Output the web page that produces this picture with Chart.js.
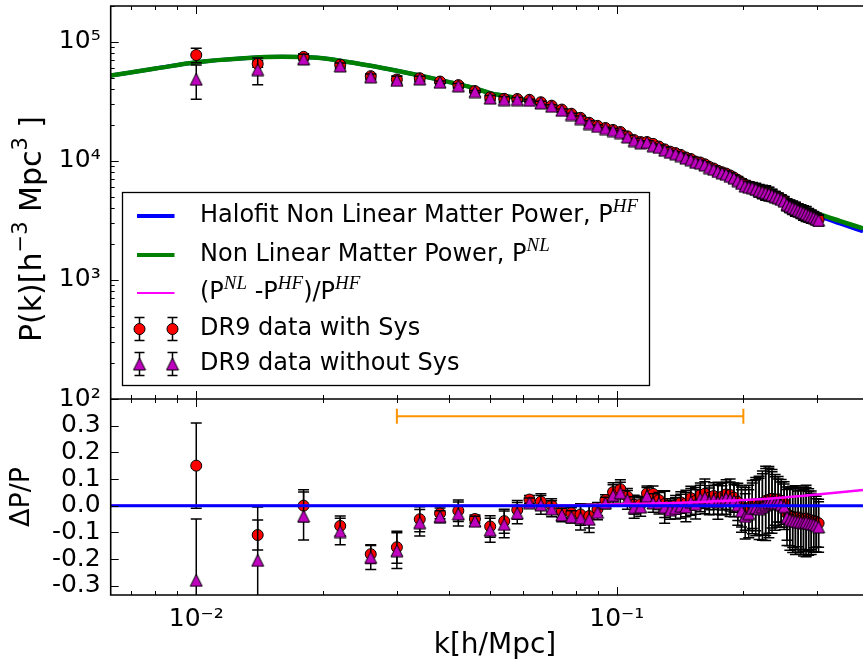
<!DOCTYPE html>
<html>
<head>
<meta charset="utf-8">
<script src="https://cdn.jsdelivr.net/npm/chart.js@4.4.0/dist/chart.umd.min.js"></script>
<style>
  html, body { margin: 0; padding: 0; background: #fff; }
  #wrap { position: relative; width: 863px; height: 668px; }
</style>
</head>
<body>
<div id="wrap"><canvas id="pk" width="863" height="668"></canvas></div>
<script>
// k bins of the DR9 measurement [h/Mpc]
const kBins = [0.010, 0.014, 0.018, 0.022, 0.026, 0.030, 0.034, 0.038, 0.042, 0.046,
  0.050, 0.054, 0.058, 0.062, 0.066, 0.070, 0.074, 0.078, 0.082, 0.086,
  0.090, 0.094, 0.098, 0.102, 0.106, 0.110, 0.114, 0.118, 0.122, 0.126,
  0.130, 0.134, 0.138, 0.142, 0.146, 0.150, 0.154, 0.158, 0.162, 0.166,
  0.170, 0.174, 0.178, 0.182, 0.186, 0.190, 0.194, 0.198, 0.202, 0.206,
  0.210, 0.214, 0.218, 0.222, 0.226, 0.230, 0.234, 0.238, 0.242, 0.246,
  0.250, 0.254, 0.258, 0.262, 0.266, 0.270, 0.274, 0.278, 0.282, 0.286,
  0.290, 0.294, 0.298, 0.302];

// P(k) in units of 10^3 h^-3 Mpc^3 (top panel)
const pSys = [77.5, 65.3, 74.8, 64.2, 51.5, 48.3, 49.5, 46.4, 43.3, 38.6,
  34.2, 33.2, 33.1, 32.6, 31.1, 29.1, 27.0, 24.9, 23.0, 20.9,
  19.7, 18.9, 18.2, 17.5, 16.1, 14.96, 14.4, 14.4, 13.9, 13.2,
  12.5, 11.95, 11.63, 11.23, 10.68, 10.38, 9.87, 9.70, 9.37, 8.90,
  8.63, 8.27, 8.03, 7.83, 7.55, 7.24, 6.91, 6.57, 6.32, 6.16,
  6.05, 5.89, 5.69, 5.59, 5.48, 5.36, 5.23, 5.08, 4.97, 4.82,
  4.66, 4.37, 4.21, 4.11, 4.00, 3.92, 3.82, 3.72, 3.65, 3.56,
  3.47, 3.39, 3.31, 3.22];
const pNoSys = [48.5, 58.4, 71.9, 62.8, 50.8, 47.5, 48.9, 45.8, 42.7, 38.2,
  33.7, 32.7, 32.7, 32.3, 30.7, 28.8, 26.6, 24.5, 22.7, 20.6,
  19.5, 18.7, 18.0, 17.3, 15.9, 14.8, 14.2, 14.3, 13.4, 13.0,
  12.3, 11.81, 11.48, 11.08, 10.55, 10.24, 9.75, 9.58, 9.24, 8.78,
  8.51, 8.15, 7.93, 7.72, 7.43, 7.16, 6.82, 6.47, 6.14, 6.02,
  5.97, 5.80, 5.62, 5.50, 5.40, 5.29, 5.16, 5.01, 4.90, 4.75,
  4.59, 4.30, 4.16, 4.05, 3.95, 3.85, 3.76, 3.67, 3.59, 3.50,
  3.42, 3.35, 3.26, 3.17];
const errPSys = [10.8, 4.1, 4.5, 2.6, 2.2, 3.4, 2.5, 1.0, 1.8, 0.6,
  1.5, 1.6, 1.2, 0.5, 0.9, 0.7, 0.6, 0.5, 1.0, 1.0,
  0.5, 0.37, 0.61, 0.58, 0.47, 0.52, 0.43, 0.39, 0.40, 0.45,
  0.62, 0.36, 0.40, 0.44, 0.53, 0.45, 0.49, 0.42, 0.49, 0.39,
  0.42, 0.48, 0.39, 0.41, 0.44, 0.39, 0.48, 0.50, 0.51, 0.53,
  0.54, 0.59, 0.63, 0.66, 0.70, 0.66, 0.56, 0.47, 0.41, 0.38,
  0.37, 0.45, 0.48, 0.49, 0.50, 0.45, 0.46, 0.47, 0.48, 0.43,
  0.40, 0.36, 0.33, 0.31];
const errPNoSys = [15.5, 14.7, 6.7, 3.5, 2.8, 3.8, 2.6, 1.05, 2.0, 0.73,
  1.7, 1.8, 1.3, 0.57, 1.07, 0.87, 0.69, 0.59, 1.07, 1.09,
  0.56, 0.41, 0.69, 0.66, 0.55, 0.60, 0.50, 0.44, 0.47, 0.52,
  0.74, 0.42, 0.46, 0.50, 0.58, 0.51, 0.53, 0.47, 0.54, 0.43,
  0.46, 0.52, 0.43, 0.45, 0.47, 0.42, 0.51, 0.53, 0.54, 0.56,
  0.57, 0.61, 0.65, 0.69, 0.73, 0.68, 0.59, 0.50, 0.44, 0.40,
  0.39, 0.47, 0.50, 0.51, 0.52, 0.47, 0.48, 0.49, 0.50, 0.45,
  0.42, 0.38, 0.35, 0.33];

// Delta P / P (bottom panel)
const dSys = [0.150, -0.110, 0.000, -0.076, -0.182, -0.156, -0.051, -0.029, -0.019, -0.050,
  -0.078, -0.058, -0.016, 0.023, 0.015, 0.001, -0.022, -0.028, -0.033, -0.039,
  -0.013, 0.021, 0.051, 0.062, 0.034, 0.004, 0.005, 0.046, 0.044, 0.021,
  0.006, -0.004, 0.003, 0.012, 0.008, 0.028, 0.018, 0.040, 0.045, 0.030,
  0.036, 0.028, 0.034, 0.042, 0.040, 0.030, 0.014, -0.005, -0.012, -0.008,
  0.004, 0.006, 0.000, 0.010, 0.018, 0.022, 0.026, 0.022, 0.024, 0.018,
  0.010, -0.030, -0.040, -0.042, -0.045, -0.044, -0.048, -0.050, -0.048, -0.052,
  -0.055, -0.058, -0.060, -0.066];
const dNoSys = [-0.280, -0.205, -0.039, -0.097, -0.194, -0.169, -0.064, -0.041, -0.031, -0.058,
  -0.092, -0.070, -0.028, 0.011, 0.003, -0.012, -0.035, -0.042, -0.046, -0.051,
  -0.025, 0.010, 0.038, 0.048, 0.022, -0.007, -0.005, 0.036, 0.010, 0.009,
  -0.006, -0.016, -0.010, -0.002, -0.005, 0.014, 0.005, 0.027, 0.030, 0.016,
  0.022, 0.014, 0.020, 0.028, 0.024, 0.018, 0.002, -0.020, -0.040, -0.030,
  -0.010, -0.008, -0.012, -0.005, 0.004, 0.010, 0.012, 0.008, 0.010, 0.004,
  -0.004, -0.044, -0.052, -0.056, -0.058, -0.060, -0.062, -0.064, -0.062, -0.066,
  -0.068, -0.070, -0.074, -0.080];
const errDSys = [0.160, 0.056, 0.060, 0.037, 0.035, 0.060, 0.047, 0.020, 0.040, 0.015,
  0.040, 0.045, 0.035, 0.015, 0.030, 0.025, 0.022, 0.020, 0.040, 0.045,
  0.025, 0.020, 0.035, 0.035, 0.030, 0.035, 0.030, 0.028, 0.030, 0.035,
  0.050, 0.030, 0.035, 0.040, 0.050, 0.045, 0.050, 0.045, 0.055, 0.045,
  0.050, 0.060, 0.050, 0.055, 0.060, 0.055, 0.070, 0.075, 0.080, 0.085,
  0.090, 0.100, 0.110, 0.120, 0.130, 0.125, 0.110, 0.095, 0.085, 0.080,
  0.080, 0.100, 0.110, 0.115, 0.120, 0.110, 0.115, 0.120, 0.125, 0.115,
  0.110, 0.100, 0.095, 0.090];
const errDNoSys = [0.230, 0.200, 0.090, 0.050, 0.045, 0.067, 0.050, 0.022, 0.045, 0.018,
  0.045, 0.050, 0.040, 0.018, 0.035, 0.030, 0.025, 0.023, 0.045, 0.050,
  0.028, 0.022, 0.040, 0.040, 0.035, 0.040, 0.035, 0.032, 0.035, 0.040,
  0.060, 0.035, 0.040, 0.045, 0.055, 0.050, 0.055, 0.050, 0.060, 0.050,
  0.055, 0.065, 0.055, 0.060, 0.065, 0.060, 0.075, 0.080, 0.085, 0.090,
  0.095, 0.105, 0.115, 0.125, 0.135, 0.130, 0.115, 0.100, 0.090, 0.085,
  0.085, 0.105, 0.115, 0.120, 0.125, 0.115, 0.120, 0.125, 0.130, 0.120,
  0.115, 0.105, 0.100, 0.095];

// model curves, 10^3 h^-3 Mpc^3
const curveK = [0.00626, 0.008, 0.010, 0.013, 0.016, 0.019, 0.022, 0.026, 0.030, 0.034,
  0.038, 0.042, 0.046, 0.050, 0.054, 0.058, 0.062, 0.066, 0.070, 0.074,
  0.078, 0.082, 0.086, 0.090, 0.094, 0.098, 0.102, 0.106, 0.110, 0.114,
  0.118, 0.122, 0.126, 0.130, 0.134, 0.138, 0.142, 0.146, 0.150, 0.170,
  0.190, 0.226, 0.262, 0.302, 0.340, 0.385];
const halofitP = [52.1, 59.6, 67.4, 72.8, 74.8, 74.0, 69.5, 63.0, 57.2, 52.2,
  47.8, 44.1, 40.6, 37.1, 35.2, 33.6, 31.9, 30.6, 29.1, 27.6,
  25.6, 23.8, 21.7, 20.0, 18.5, 17.3, 16.5, 15.6, 14.9, 14.3,
  13.8, 13.3, 12.9, 12.4, 12.0, 11.5, 11.0, 10.55, 10.1, 8.33,
  7.03, 5.38, 4.29, 3.45, 2.97, 2.56];
const nonLinP = [52.1, 59.6, 67.4, 72.8, 74.8, 74.0, 69.5, 63.0, 57.2, 52.2,
  47.8, 44.1, 40.6, 37.1, 35.2, 33.6, 31.9, 30.6, 29.1, 27.6,
  25.65, 23.85, 21.76, 20.06, 18.57, 17.38, 16.58, 15.68, 14.98, 14.38,
  13.88, 13.38, 12.98, 12.49, 12.09, 11.59, 11.09, 10.64, 10.22, 8.44,
  7.16, 5.51, 4.43, 3.59, 3.12, 2.71];
const ratioK = [0.00626, 0.060, 0.080, 0.100, 0.130, 0.160, 0.200, 0.250, 0.300, 0.340, 0.385];
const ratioV = [0, 0, 0.002, 0.005, 0.009, 0.014, 0.021, 0.031, 0.042, 0.050, 0.059];
const zeroK = [0.00626, 0.385];
const zeroV = [0, 0];
const fitRangeK = [0.03, 0.2];
const fitRangeV = [0.335, 0.335];

const deltaTicks = [-0.3, -0.2, -0.1, 0.0, 0.1, 0.2, 0.3];
const K_MIN = 0.00626, K_MAX = 0.3851;
const P_UNIT = 1e3;
const FONT = '"DejaVu Sans", sans-serif';

const SUP = { '-': '\u207b', '0': '\u2070', '1': '\u00b9', '2': '\u00b2', '3': '\u00b3',
  '4': '\u2074', '5': '\u2075', '6': '\u2076', '7': '\u2077', '8': '\u2078', '9': '\u2079' };
const isDecade = v => Math.abs(Math.log10(v) - Math.round(Math.log10(v))) < 1e-9;
const decadeLabel = v => isDecade(v) ? '10' + String(Math.round(Math.log10(v))).split('').map(c => SUP[c]).join('') : '';

// log ticks 1..9 x 10^n inside a range
function logTicks(lo, hi) {
  const out = [];
  for (let e = Math.floor(Math.log10(lo)); e <= Math.ceil(Math.log10(hi)); e++) {
    for (let m = 1; m <= 9; m++) {
      const v = m * Math.pow(10, e);
      if (v >= lo * 0.9999 && v <= hi * 1.0001) out.push({ value: v, major: m === 1 });
    }
  }
  return out;
}

// no automatic label padding: the panels must sit exactly where matplotlib put them
function fixBox(s, w, h) {
  if (w !== undefined) s.width = w;
  if (h !== undefined) s.height = h;
  s.paddingTop = 0; s.paddingBottom = 0; s.paddingLeft = 0; s.paddingRight = 0;
}

// matplotlib-like '^' marker
function triMarker(size, fill) {
  const c = document.createElement('canvas');
  c.width = size + 2; c.height = size + 2;
  const g = c.getContext('2d');
  const h = size / 2, o = 1 + h;
  g.beginPath();
  g.moveTo(o, o - h); g.lineTo(o - h, o + h); g.lineTo(o + h, o + h); g.closePath();
  g.fillStyle = fill; g.fill();
  g.lineWidth = 1; g.strokeStyle = '#000'; g.stroke();
  return c;
}
const TRI = triMarker(12, '#bf00bf');

const pts = (xs, ys, f = 1) => xs.map((x, i) => ({ x, y: ys[i] * f }));
const scaleArr = (a, f) => a.map(v => v * f);

// error bars drawn through the chart scales, before the markers of the same dataset
const errorBars = {
  id: 'errorBars',
  beforeDatasetDraw(chart, args) {
    const ds = chart.data.datasets[args.index];
    if (!ds.errorBars) return;
    const xs = chart.scales.x, ys = chart.scales[args.meta.yAxisID];
    const ctx = chart.ctx;
    ctx.save();
    ctx.beginPath();
    ctx.rect(chart.chartArea.left, ys.top, chart.chartArea.width, ys.height);
    ctx.clip();
    ctx.strokeStyle = '#000';
    ctx.lineWidth = 1.5;
    ds.data.forEach((p, i) => {
      const e = ds.errorBars[i];
      const px = xs.getPixelForValue(p.x);
      const top = ys.getPixelForValue(p.y + e);
      const bot = ys.getPixelForValue(p.y - e);
      ctx.beginPath();
      ctx.moveTo(px, top); ctx.lineTo(px, bot);
      ctx.moveTo(px - 5.5, top); ctx.lineTo(px + 5.5, top);
      ctx.moveTo(px - 5.5, bot); ctx.lineTo(px + 5.5, bot);
      ctx.stroke();
    });
    ctx.restore();
  }
};

// spines and inward ticks, matplotlib style
const frame = {
  id: 'frame',
  afterDatasetsDraw(chart) {
    const { ctx, chartArea: ca } = chart;
    const { x, yTop, yBot } = chart.scales;
    ctx.save();
    ctx.strokeStyle = '#000';
    ctx.lineWidth = 1;
    ctx.beginPath();
    x.ticks.forEach(t => {
      const px = Math.round(x.getPixelForValue(t.value)) + 0.5;
      const len = t.major ? 8 : 4;
      ctx.moveTo(px, yTop.top); ctx.lineTo(px, yTop.top + len);
      ctx.moveTo(px, yTop.bottom - len); ctx.lineTo(px, yTop.bottom + len);
      ctx.moveTo(px, yBot.bottom); ctx.lineTo(px, yBot.bottom - len);
    });
    yTop.ticks.forEach(t => {
      const py = Math.round(yTop.getPixelForValue(t.value)) + 0.5;
      ctx.moveTo(ca.left, py); ctx.lineTo(ca.left + (t.major ? 8 : 4), py);
    });
    yBot.ticks.forEach(t => {
      const py = Math.round(yBot.getPixelForValue(t.value)) + 0.5;
      ctx.moveTo(ca.left, py); ctx.lineTo(ca.left + 8, py);
    });
    ctx.stroke();
    ctx.lineWidth = 1.6;
    ctx.beginPath();
    ctx.moveTo(ca.right + 2, yTop.top); ctx.lineTo(ca.left, yTop.top);
    ctx.lineTo(ca.left, yBot.bottom); ctx.lineTo(ca.right + 2, yBot.bottom);
    ctx.moveTo(ca.left, yTop.bottom); ctx.lineTo(ca.right + 2, yTop.bottom);
    ctx.stroke();
    ctx.restore();
  }
};

function richText(ctx, x, y, parts, base, sup, raise) {
  for (const p of parts) {
    ctx.font = p.sup ? sup : base;
    ctx.fillText(p.t, x, p.sup ? y - raise : y);
    x += ctx.measureText(p.t).width;
  }
  return x;
}
function richWidth(ctx, parts, base, sup) {
  let w = 0;
  for (const p of parts) { ctx.font = p.sup ? sup : base; w += ctx.measureText(p.t).width; }
  return w;
}

const yLabelParts = [{ t: 'P(k)[h' }, { t: '\u22123', sup: true }, { t: ' Mpc' }, { t: '3', sup: true }, { t: ' ]' }];
const legendRows = [
  { kind: 'line', color: '#0000ff', width: 4, parts: [{ t: 'Halofit Non Linear Matter Power, P' }, { t: 'HF', sup: true }] },
  { kind: 'line', color: '#008000', width: 4, parts: [{ t: 'Non Linear Matter Power, P' }, { t: 'NL', sup: true }] },
  { kind: 'line', color: '#ff00ff', width: 2, parts: [{ t: '(P' }, { t: 'NL', sup: true }, { t: ' -P' }, { t: 'HF', sup: true }, { t: ')/P' }, { t: 'HF', sup: true }] },
  { kind: 'circle', parts: [{ t: 'DR9 data with Sys' }] },
  { kind: 'tri', parts: [{ t: 'DR9 data without Sys' }] }
];

const annotations = {
  id: 'annotations',
  afterDraw(chart) {
    const ctx = chart.ctx;
    ctx.save();
    ctx.fillStyle = '#000';
    ctx.textBaseline = 'middle';
    // x title
    ctx.font = '28px ' + FONT;
    ctx.textAlign = 'center';
    ctx.fillText('k[h/Mpc]', 495, 646);
    // y titles
    ctx.save();
    ctx.translate(22, 497); ctx.rotate(-Math.PI / 2);
    ctx.font = '27px ' + FONT;
    ctx.fillText('\u0394P/P', 0, 0);
    ctx.restore();
    ctx.save();
    ctx.translate(33, 229); ctx.rotate(-Math.PI / 2);
    ctx.textAlign = 'left';
    const base = '30px ' + FONT, sup = '21px ' + FONT;
    const w = richWidth(ctx, yLabelParts, base, sup);
    richText(ctx, -w / 2, 0, yLabelParts, base, sup, 11);
    ctx.restore();

    // legend
    const L = { x: 122.5, y: 192.5, w: 527, h: 193 };
    ctx.fillStyle = '#fff';
    ctx.fillRect(L.x, L.y, L.w, L.h);
    ctx.strokeStyle = '#000'; ctx.lineWidth = 1.3;
    ctx.strokeRect(L.x, L.y, L.w, L.h);
    const rowY = [216, 255, 293, 329, 364];
    const lbase = '24px ' + FONT, lsup = 'italic 19px "Liberation Serif", serif';
    legendRows.forEach((r, i) => {
      const y = rowY[i];
      if (r.kind === 'line') {
        ctx.strokeStyle = r.color; ctx.lineWidth = r.width;
        ctx.beginPath(); ctx.moveTo(137, y); ctx.lineTo(174.5, y); ctx.stroke();
      } else {
        [139.5, 172.5].forEach(mx => {
          ctx.strokeStyle = '#000'; ctx.lineWidth = 1.5;
          ctx.beginPath();
          ctx.moveTo(mx, y - 11.5); ctx.lineTo(mx, y + 11.5);
          ctx.moveTo(mx - 5, y - 11.5); ctx.lineTo(mx + 5, y - 11.5);
          ctx.moveTo(mx - 5, y + 11.5); ctx.lineTo(mx + 5, y + 11.5);
          ctx.stroke();
          if (r.kind === 'circle') {
            ctx.beginPath(); ctx.arc(mx, y, 5.5, 0, 2 * Math.PI);
            ctx.fillStyle = '#ff0000'; ctx.fill();
            ctx.lineWidth = 1; ctx.stroke();
          } else {
            ctx.drawImage(TRI, mx - TRI.width / 2, y - TRI.height / 2);
          }
        });
      }
      ctx.fillStyle = '#000';
      ctx.textAlign = 'left';
      richText(ctx, 200, y, r.parts, lbase, lsup, 9);
    });
    ctx.restore();
  }
};

Chart.defaults.font.family = FONT;
Chart.defaults.color = '#000';

new Chart(document.getElementById('pk'), {
  type: 'line',
  data: {
    datasets: [
      { label: 'Halofit', yAxisID: 'yTop', data: pts(curveK, halofitP, P_UNIT), borderColor: '#0000ff', borderWidth: 4, pointRadius: 0, cubicInterpolationMode: 'monotone', order: 20 },
      { label: 'NonLinear', yAxisID: 'yTop', data: pts(curveK, nonLinP, P_UNIT), borderColor: '#008000', borderWidth: 4.5, pointRadius: 0, cubicInterpolationMode: 'monotone', order: 19 },
      { label: 'DR9 sys', yAxisID: 'yTop', data: pts(kBins, pSys, P_UNIT), errorBars: scaleArr(errPSys, P_UNIT), showLine: false, pointStyle: 'circle', pointRadius: 5.5, pointBackgroundColor: '#ff0000', pointBorderColor: '#000', pointBorderWidth: 1, order: 18 },
      { label: 'DR9 nosys', yAxisID: 'yTop', data: pts(kBins, pNoSys, P_UNIT), errorBars: scaleArr(errPNoSys, P_UNIT), showLine: false, pointStyle: TRI, pointRadius: 6, order: 17 },
      { label: 'dSys', yAxisID: 'yBot', data: pts(kBins, dSys), errorBars: errDSys, showLine: false, pointStyle: 'circle', pointRadius: 5.5, pointBackgroundColor: '#ff0000', pointBorderColor: '#000', pointBorderWidth: 1, order: 8 },
      { label: 'dNoSys', yAxisID: 'yBot', data: pts(kBins, dNoSys), errorBars: errDNoSys, showLine: false, pointStyle: TRI, pointRadius: 6, order: 7 },
      { label: 'ratio', yAxisID: 'yBot', data: pts(ratioK, ratioV), borderColor: '#ff00ff', borderWidth: 2.5, pointRadius: 0, cubicInterpolationMode: 'monotone', order: 4 },
      { label: 'zero', yAxisID: 'yBot', data: pts(zeroK, zeroV), borderColor: '#0000ff', borderWidth: 3, pointRadius: 0, order: 3 },
      { label: 'range', yAxisID: 'yBot', data: pts(fitRangeK, fitRangeV), borderColor: '#ff9400', borderWidth: 2, pointStyle: 'line', rotation: 90, pointRadius: 7.5, pointBorderColor: '#ff9400', pointBorderWidth: 2, order: 1 }
    ]
  },
  options: {
    responsive: false,
    animation: false,
    layout: { padding: { top: 6, right: 0, bottom: 0, left: 0 }, autoPadding: false },
    plugins: { legend: { display: false }, tooltip: { enabled: false } },
    scales: {
      x: {
        type: 'logarithmic', position: 'bottom', min: K_MIN, max: K_MAX,
        grid: { display: false, drawTicks: false }, border: { display: false },
        afterBuildTicks: s => { s.ticks = logTicks(K_MIN, K_MAX); },
        ticks: { autoSkip: false, maxRotation: 0, padding: 9, font: { size: 25 }, callback: v => decadeLabel(v) },
        afterFit: s => fixBox(s, undefined, 73)
      },
      yBot: {
        type: 'linear', position: 'left', stack: 'panels', stackWeight: 196, min: -0.335, max: 0.4,
        grid: { display: false, drawTicks: false }, border: { display: false },
        afterBuildTicks: s => { s.ticks = deltaTicks.map(v => ({ value: v })); },
        ticks: { autoSkip: false, padding: 10, font: { size: 25 }, callback: v => (Math.abs(v) < 1e-9 ? 0 : v).toFixed(1) },
        afterFit: s => fixBox(s, 110.7)
      },
      yTop: {
        type: 'logarithmic', position: 'left', stack: 'panels', stackWeight: 393, min: 100, max: 2e5,
        grid: { display: false, drawTicks: false }, border: { display: false },
        afterBuildTicks: s => { s.ticks = logTicks(100, 2e5); },
        ticks: { autoSkip: false, padding: 10, font: { size: 25 }, callback: v => decadeLabel(v) },
        afterFit: s => fixBox(s, 110.7)
      }
    }
  },
  plugins: [errorBars, frame, annotations]
});
</script>
</body>
</html>
